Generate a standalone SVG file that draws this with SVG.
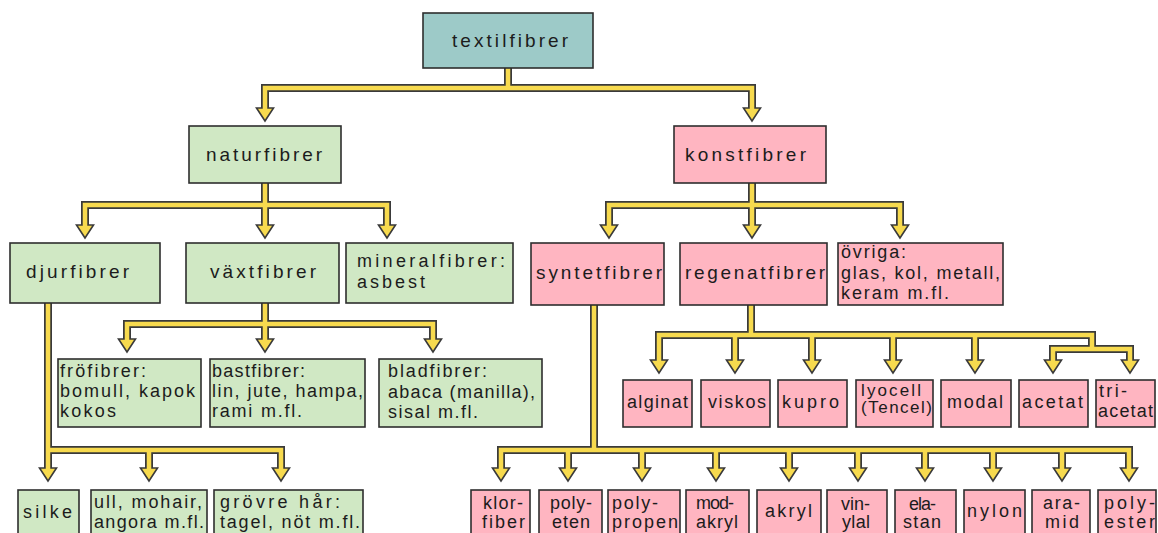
<svg xmlns="http://www.w3.org/2000/svg" xmlns:xlink="http://www.w3.org/1999/xlink" width="1158" height="533" viewBox="0 0 1158 533">
<style>
.bx{stroke:#2e2e2e;stroke-width:1.6}
.teal{fill:#9dcac8}
.grn{fill:#d0e8c4}
.pnk{fill:#ffb5c1}
text{font-family:"Liberation Sans",Arial,sans-serif;font-size:18px;fill:#1c1c1c}
.lg{font-size:19px}
.sm{font-size:17px}
.o{fill:none;stroke:#3a3a3a;stroke-width:8;stroke-linejoin:miter}
.i{fill:none;stroke:#f7da4e;stroke-width:4.5;stroke-linejoin:miter}
.ah{fill:#f7da4e;stroke:#3a3a3a;stroke-width:1.6;stroke-linejoin:miter}
</style>
<defs>
<path id="ah" class="ah" d="M-8.5,-13 H8.5 L0,0 Z"/>
</defs>
<rect width="1158" height="533" fill="#ffffff"/>
<g id="connectors">
<path class="o" d="M508,68 V88 M265,108 V88 H752 V108 M265,183 V225 M85,225 V205 H387 V225 M48,303 V468 M48,450 H281 V468 M149,450 V468 M265,303 V339 M127,339 V324 H433 V339 M752,183 V225 M609,225 V205 H900 V225 M751,305 V335 M659,360 V335 H1092 V349 M735,335 V360 M812,335 V360 M893,335 V360 M975,335 V360 M1053,360 V349 H1130 V360 M594,305 V450 M501,468 V450 H1129 V468 M568,450 V468 M642,450 V468 M716,450 V468 M789,450 V468 M858,450 V468 M925,450 V468 M993,450 V468 M1062,450 V468"/>
<use href="#ah" x="265" y="121"/><use href="#ah" x="752" y="121"/>
<use href="#ah" x="85" y="238"/><use href="#ah" x="265" y="238"/><use href="#ah" x="387" y="238"/>
<use href="#ah" x="127" y="352"/><use href="#ah" x="265" y="352"/><use href="#ah" x="433" y="352"/>
<use href="#ah" x="48" y="481"/><use href="#ah" x="149" y="481"/><use href="#ah" x="281" y="481"/>
<use href="#ah" x="609" y="238"/><use href="#ah" x="752" y="238"/><use href="#ah" x="900" y="238"/>
<use href="#ah" x="659" y="373"/><use href="#ah" x="735" y="373"/><use href="#ah" x="812" y="373"/><use href="#ah" x="893" y="373"/><use href="#ah" x="975" y="373"/><use href="#ah" x="1053" y="373"/><use href="#ah" x="1130" y="373"/>
<use href="#ah" x="501" y="481"/><use href="#ah" x="568" y="481"/><use href="#ah" x="642" y="481"/><use href="#ah" x="716" y="481"/><use href="#ah" x="789" y="481"/><use href="#ah" x="858" y="481"/><use href="#ah" x="925" y="481"/><use href="#ah" x="993" y="481"/><use href="#ah" x="1062" y="481"/><use href="#ah" x="1129" y="481"/>
<path class="i" d="M508,68 V88 M265,110 V88 H752 V110 M265,183 V227 M85,227 V205 H387 V227 M48,303 V470 M48,450 H281 V470 M149,450 V470 M265,303 V341 M127,341 V324 H433 V341 M752,183 V227 M609,227 V205 H900 V227 M751,305 V335 M659,362 V335 H1092 V349 M735,335 V362 M812,335 V362 M893,335 V362 M975,335 V362 M1053,362 V349 H1130 V362 M594,305 V450 M501,470 V450 H1129 V470 M568,450 V470 M642,450 V470 M716,450 V470 M789,450 V470 M858,450 V470 M925,450 V470 M993,450 V470 M1062,450 V470"/>
</g>
<g id="textilfibrer"><rect class="bx teal" x="423" y="13" width="170" height="55"/><text class="lg" x="452" y="47" textLength="116" lengthAdjust="spacing">textilfibrer</text></g>
<g id="naturfibrer"><rect class="bx grn" x="189" y="126" width="152" height="57"/><text class="lg" x="206" y="161" textLength="116" lengthAdjust="spacing">naturfibrer</text></g>
<g id="konstfibrer"><rect class="bx pnk" x="674" y="126" width="152" height="57"/><text class="lg" x="685" y="161" textLength="121" lengthAdjust="spacing">konstfibrer</text></g>
<g id="djurfibrer"><rect class="bx grn" x="10" y="243" width="150" height="60"/><text class="lg" x="26" y="278" textLength="103" lengthAdjust="spacing">djurfibrer</text></g>
<g id="vaxtfibrer"><rect class="bx grn" x="186" y="243" width="153" height="60"/><text class="lg" x="210" y="278" textLength="106" lengthAdjust="spacing">växtfibrer</text></g>
<g id="mineralfibrer"><rect class="bx grn" x="346" y="243" width="167" height="60"/><text x="357" y="267" textLength="148" lengthAdjust="spacing">mineralfibrer:</text><text x="357" y="288" textLength="68" lengthAdjust="spacing">asbest</text></g>
<g id="syntetfibrer"><rect class="bx pnk" x="531" y="243" width="133" height="62"/><text class="lg" x="536" y="279" textLength="126" lengthAdjust="spacing">syntetfibrer</text></g>
<g id="regenatfibrer"><rect class="bx pnk" x="680" y="243" width="147" height="62"/><text class="lg" x="685" y="279" textLength="140" lengthAdjust="spacing">regenatfibrer</text></g>
<g id="ovriga"><rect class="bx pnk" x="838" y="243" width="165" height="62"/><text x="841" y="258" textLength="65" lengthAdjust="spacing">övriga:</text><text x="841" y="279" textLength="159" lengthAdjust="spacing">glas, kol, metall,</text><text x="841" y="299" textLength="108" lengthAdjust="spacing">keram m.fl.</text></g>
<g id="frofibrer"><rect class="bx grn" x="58" y="359" width="143" height="68"/><text x="60" y="377" textLength="86" lengthAdjust="spacing">fröfibrer:</text><text x="60" y="397" textLength="135" lengthAdjust="spacing">bomull, kapok</text><text x="60" y="417" textLength="56" lengthAdjust="spacing">kokos</text></g>
<g id="bastfibrer"><rect class="bx grn" x="210" y="359" width="155" height="68"/><text x="212" y="377" textLength="93" lengthAdjust="spacing">bastfibrer:</text><text x="212" y="397" textLength="151" lengthAdjust="spacing">lin, jute, hampa,</text><text x="212" y="417" textLength="90" lengthAdjust="spacing">rami m.fl.</text></g>
<g id="bladfibrer"><rect class="bx grn" x="379" y="359" width="163" height="68"/><text x="388" y="377" textLength="99" lengthAdjust="spacing">bladfibrer:</text><text x="388" y="398" textLength="147" lengthAdjust="spacing">abaca (manilla),</text><text x="388" y="418" textLength="90" lengthAdjust="spacing">sisal m.fl.</text></g>
<g id="silke"><rect class="bx grn" x="18" y="490" width="61" height="60"/><text x="23" y="518" textLength="49" lengthAdjust="spacing">silke</text></g>
<g id="ull"><rect class="bx grn" x="91" y="490" width="116" height="60"/><text x="94" y="508" textLength="108" lengthAdjust="spacing">ull, mohair,</text><text x="94" y="528" textLength="110" lengthAdjust="spacing">angora m.fl.</text></g>
<g id="grovre"><rect class="bx grn" x="214" y="490" width="149" height="60"/><text x="220" y="508" textLength="120" lengthAdjust="spacing">grövre hår:</text><text x="220" y="528" textLength="140" lengthAdjust="spacing">tagel, nöt m.fl.</text></g>
<g id="alginat"><rect class="bx pnk" x="623" y="380" width="69" height="47"/><text x="627" y="408" textLength="61" lengthAdjust="spacing">alginat</text></g>
<g id="viskos"><rect class="bx pnk" x="701" y="380" width="69" height="47"/><text x="708" y="408" textLength="58" lengthAdjust="spacing">viskos</text></g>
<g id="kupro"><rect class="bx pnk" x="778" y="380" width="69" height="47"/><text x="782" y="408" textLength="57" lengthAdjust="spacing">kupro</text></g>
<g id="lyocell"><rect class="bx pnk" x="856" y="380" width="77" height="47"/><text class="sm" x="861" y="396" textLength="60" lengthAdjust="spacing">lyocell</text><text class="sm" x="861" y="413" textLength="71" lengthAdjust="spacing">(Tencel)</text></g>
<g id="modal"><rect class="bx pnk" x="941" y="380" width="70" height="47"/><text x="947" y="408" textLength="56" lengthAdjust="spacing">modal</text></g>
<g id="acetat"><rect class="bx pnk" x="1019" y="380" width="69" height="47"/><text x="1022" y="408" textLength="61" lengthAdjust="spacing">acetat</text></g>
<g id="triacetat"><rect class="bx pnk" x="1096" y="380" width="59" height="47"/><text x="1099" y="397" textLength="28" lengthAdjust="spacing">tri-</text><text x="1098" y="417" textLength="55" lengthAdjust="spacing">acetat</text></g>
<g id="klorfiber"><rect class="bx pnk" x="471" y="490" width="59" height="60"/><text x="483" y="509" textLength="40" lengthAdjust="spacing">klor-</text><text x="482" y="528" textLength="43" lengthAdjust="spacing">fiber</text></g>
<g id="polyeten"><rect class="bx pnk" x="539" y="490" width="63" height="60"/><text x="550" y="509" textLength="42" lengthAdjust="spacing">poly-</text><text x="552" y="528" textLength="38" lengthAdjust="spacing">eten</text></g>
<g id="polypropen"><rect class="bx pnk" x="608" y="490" width="72" height="60"/><text x="612" y="509" textLength="46" lengthAdjust="spacing">poly-</text><text x="612" y="528" textLength="66" lengthAdjust="spacing">propen</text></g>
<g id="modakryl"><rect class="bx pnk" x="686" y="490" width="63" height="60"/><text x="696" y="509" textLength="38" lengthAdjust="spacing">mod-</text><text x="696" y="528" textLength="42" lengthAdjust="spacing">akryl</text></g>
<g id="akryl"><rect class="bx pnk" x="757" y="490" width="64" height="60"/><text x="765" y="517" textLength="47" lengthAdjust="spacing">akryl</text></g>
<g id="vinylal"><rect class="bx pnk" x="827" y="490" width="60" height="60"/><text x="841" y="510" textLength="29" lengthAdjust="spacing">vin-</text><text x="842" y="528" textLength="28" lengthAdjust="spacing">ylal</text></g>
<g id="elastan"><rect class="bx pnk" x="895" y="490" width="61" height="60"/><text x="909" y="510" textLength="27" lengthAdjust="spacing">ela-</text><text x="903" y="528" textLength="38" lengthAdjust="spacing">stan</text></g>
<g id="nylon"><rect class="bx pnk" x="964" y="490" width="61" height="60"/><text x="967" y="517" textLength="55" lengthAdjust="spacing">nylon</text></g>
<g id="aramid"><rect class="bx pnk" x="1032" y="490" width="58" height="60"/><text x="1043" y="509" textLength="37" lengthAdjust="spacing">ara-</text><text x="1045" y="528" textLength="34" lengthAdjust="spacing">mid</text></g>
<g id="polyester"><rect class="bx pnk" x="1098" y="490" width="58" height="60"/><text x="1104" y="509" textLength="51" lengthAdjust="spacing">poly-</text><text x="1104" y="528" textLength="51" lengthAdjust="spacing">ester</text></g>
</svg>
